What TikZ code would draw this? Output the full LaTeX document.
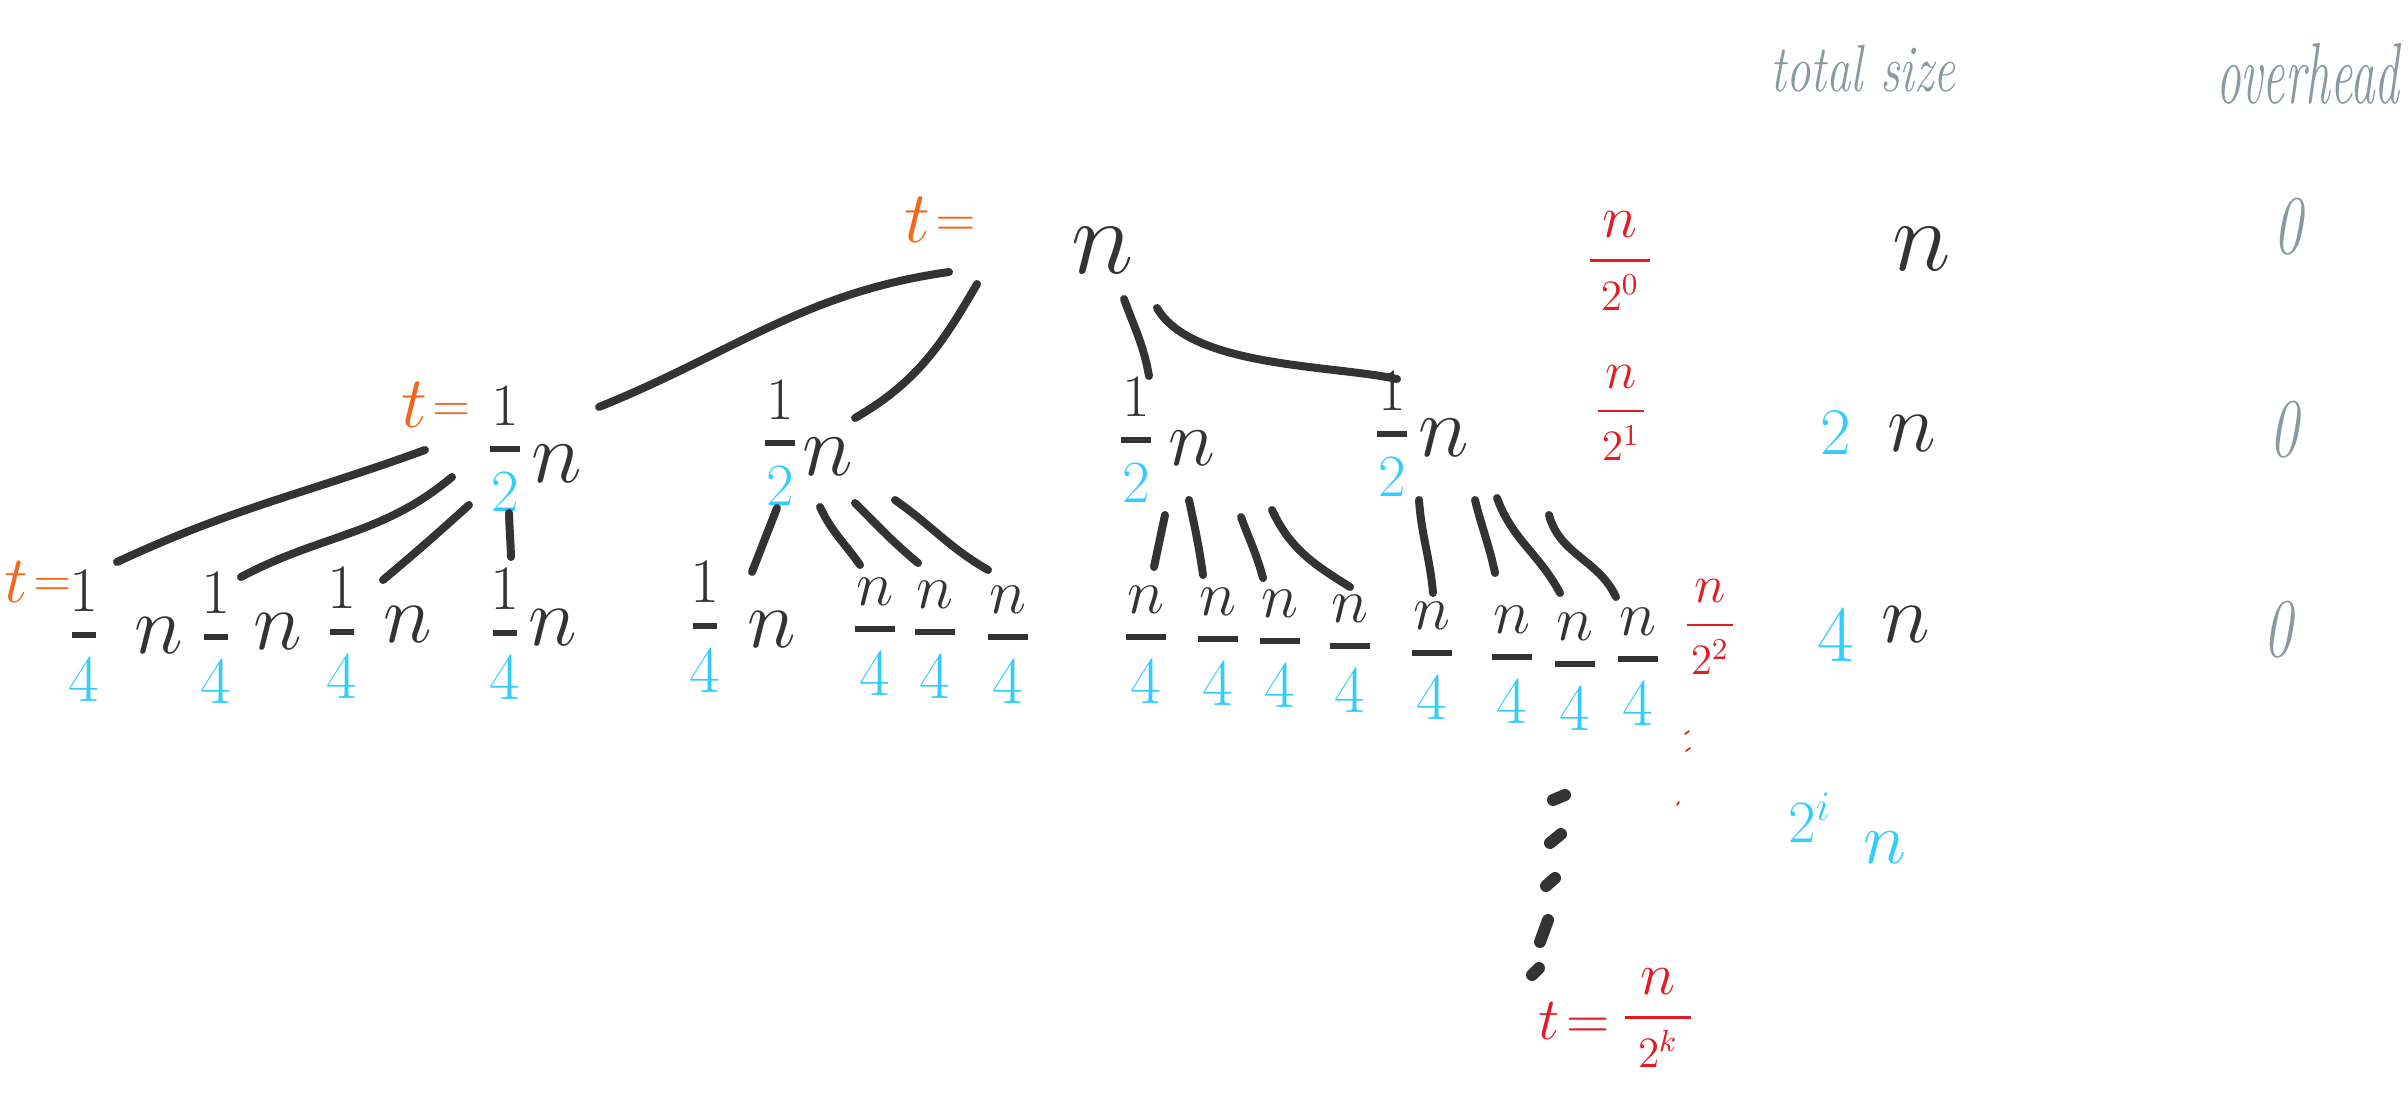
\RequirePackage{fix-cm}
\documentclass[tikz,border=0pt]{standalone}
\usepackage{amsmath}
\usepackage{graphicx}
\definecolor{ink}{HTML}{333333}
\definecolor{sky}{HTML}{33CCFF}
\definecolor{tang}{HTML}{F4661B}
\definecolor{scarlet}{HTML}{E31B23}
\definecolor{slate}{HTML}{8A999E}
\newcommand\fs[1]{\fontsize{#1}{#1}\selectfont}
% handwritten-style fraction: num size, num, den size, den, bar thickness, bar width
\newcommand\hfrac[6]{$\genfrac{}{}{#5}{0}{\makebox[#6]{\fs{#1}$#2$}}{\makebox[#6]{\fs{#3}$#4$}}$}
\newcommand\half{\hfrac{18}{1}{18}{\textcolor{sky}{2}}{2pt}{9pt}}
\newcommand\quarter{\hfrac{19}{1}{20}{\textcolor{sky}{4}}{2pt}{7pt}}
\newcommand\nquarter{\hfrac{19}{n}{20}{\textcolor{sky}{4}}{2pt}{12pt}}
% level marker: a tall t followed by a smaller equals sign at mid height
\newcommand\teq[2]{{\fs{#1}$t$}\kern1.5pt\raisebox{0.12em}{\fs{#2}$=$}}
\begin{document}
\begin{tikzpicture}[x=0.3pt,y=0.3pt,
  edge/.style={draw=ink,line width=2.4pt,line cap=round,line join=round},
  lab/.style={inner sep=0pt,outer sep=0pt,font=\fs{16}},
  blk/.style={lab,text=ink},
  lvl/.style={lab,text=tang},
  red/.style={lab,text=scarlet},
  cyan/.style={lab,text=sky},
  grey/.style={lab,text=slate},
  dot/.style={draw=ink,line width=3.6pt,line cap=round}]
\useasboundingbox (0,0) rectangle (2408,-1109);

% level markers
\node[lvl] (t0) at (940,-220) {\teq{22}{16}};
\node[lvl] (t1) at (436,-405) {\teq{22}{15}};
\node[lvl] (t2) at (38,-582) {\teq{20}{15}};

% root
\node[blk] (r) at (1103,-251) {\fs{32}$n$};

% second level
\node[blk] (A) at (505,-449) {\half};
\node[blk] (An) at (557,-464) {\fs{26}$n$};
\node[blk] (B) at (780,-443) {\half};
\node[blk] (Bn) at (828,-457) {\fs{26}$n$};
\node[blk] (C) at (1136,-440) {\half};
\node[blk] (Cn) at (1192,-448) {\fs{24}$n$};
\node[blk] (D) at (1392,-434) {\half};
\node[blk] (Dn) at (1444,-438) {\fs{26}$n$};

% third level
\node[blk] (L1) at (84,-636) {\quarter};
\node[blk] (L1n) at (159,-636) {\fs{25}$n$};
\node[blk] (L2) at (216,-638) {\quarter};
\node[blk] (L2n) at (278,-632) {\fs{25}$n$};
\node[blk] (L3) at (342,-633) {\quarter};
\node[blk] (L3n) at (408,-625) {\fs{25}$n$};
\node[blk] (L4) at (505,-634) {\quarter};
\node[blk] (L4n) at (553,-628) {\fs{25}$n$};
\node[blk] (L5) at (705,-627) {\quarter};
\node[blk] (L5n) at (772,-630) {\fs{25}$n$};
\node[blk] (L6) at (875,-637) {\nquarter};
\node[blk] (L7) at (935,-640) {\nquarter};
\node[blk] (L8) at (1008,-645) {\nquarter};
\node[blk] (L9) at (1146,-645) {\nquarter};
\node[blk] (L10) at (1218,-647) {\nquarter};
\node[blk] (L11) at (1280,-649) {\nquarter};
\node[blk] (L12) at (1350,-654) {\nquarter};
\node[blk] (L13) at (1432,-661) {\nquarter};
\node[blk] (L14) at (1512,-665) {\nquarter};
\node[blk] (L15) at (1575,-672) {\nquarter};
\node[blk] (L16) at (1638,-667) {\nquarter};

% size of one subproblem per level
\node[red] (F0) at (1620,-261) {\hfrac{18}{n}{13}{2^0}{0.7pt}{18pt}};
\node[red] (F1) at (1621,-413) {\hfrac{16}{n}{13}{2^1}{0.7pt}{14pt}};
\node[red] (F2) at (1710,-627) {\hfrac{16}{n}{13}{2^2}{0.7pt}{14pt}};
\node[red] (tk) at (1574,-1021) {\fs{18}$t\!=$};
\node[red] (Fk) at (1658,-1018) {\hfrac{18}{n}{13}{2^k}{0.7pt}{20pt}};

% column headings
\node[grey] (H1) at (1863,-69) {\scalebox{0.73}[1]{\fs{20}\itshape total size}};
\node[grey,anchor=west] (H2) at (2216,-74) {\scalebox{0.57}[1]{\fs{26}\itshape overhead}};

% total size column
\node[blk] (T0) at (1922,-249) {\fs{30}$n$};
\node[cyan] (T1d) at (1836,-433) {\fs{20}$2$};
\node[blk] (T1n) at (1912,-434) {\fs{25}$n$};
\node[cyan] (T2d) at (1836,-636) {\fs{24}$4$};
\node[blk] (T2n) at (1906,-625) {\fs{25}$n$};
\node[cyan] (T3d) at (1810,-818) {\fs{18}$2^{i}$};
\node[cyan] (T3n) at (1885,-848) {\fs{22}$n$};

% overhead column
\node[grey] (O0) at (2288,-227) {\scalebox{0.7}[1]{\fs{25}\itshape 0}};
\node[grey] (O1) at (2284,-430) {\scalebox{0.7}[1]{\fs{25}\itshape 0}};
\node[grey] (O2) at (2278,-630) {\scalebox{0.7}[1]{\fs{25}\itshape 0}};

% root to second level
\draw[edge] ([shift={(-154,-21)}]r.center) to[out=188,in=22] ([shift={(42,57)}]An.center);
\draw[edge] ([shift={(-126,-33)}]r.center) to[out=240,in=30] ([shift={(27,39)}]Bn.center);
\draw[edge] ([shift={(21,-48)}]r.center) to[out=290,in=100] ([shift={(13,64)}]C.center);
\draw[edge] ([shift={(54,-57)}]r.center) to[out=300,in=168,looseness=0.7] ([shift={(5,55)}]D.center);

% first subtree
\draw[edge] ([shift={(-80,-1)}]A.center) to[out=200,in=25] ([shift={(33,74)}]L1.center);
\draw[edge] ([shift={(-53,-28)}]A.center) to[out=220,in=28] ([shift={(25,61)}]L2.center);
\draw[edge] ([shift={(-36,-56)}]A.center) to[out=222,in=40] ([shift={(-25,45)}]L3n.center);
\draw[edge] ([shift={(4,-64)}]A.center) to[out=272,in=92] ([shift={(6,77)}]L4.center);

% second subtree
\draw[edge] ([shift={(-3,-65)}]B.center) -- ([shift={(-20,58)}]L5n.center);
\draw[edge] ([shift={(-8,-50)}]Bn.center) to[out=295,in=125] ([shift={(-15,72)}]L6.center);
\draw[edge] ([shift={(27,-46)}]Bn.center) to[out=315,in=140] ([shift={(-17,77)}]L7.center);
\draw[edge] ([shift={(67,-43)}]Bn.center) to[out=325,in=150] ([shift={(-20,75)}]L8.center);

% third subtree
\draw[edge] ([shift={(29,-75)}]C.center) -- ([shift={(8,78)}]L9.center);
\draw[edge] ([shift={(-3,-52)}]Cn.center) to[out=282,in=98] ([shift={(-15,72)}]L10.center);
\draw[edge] ([shift={(49,-69)}]Cn.center) to[out=290,in=105] ([shift={(-17,71)}]L11.center);
\draw[edge] ([shift={(80,-62)}]Cn.center) to[out=295,in=148] ([shift={(0,67)}]L12.center);

% fourth subtree
\draw[edge] ([shift={(27,-66)}]D.center) to[out=274,in=95] ([shift={(1,68)}]L13.center);
\draw[edge] ([shift={(31,-62)}]Dn.center) to[out=284,in=102] ([shift={(-17,92)}]L14.center);
\draw[edge] ([shift={(53,-60)}]Dn.center) to[out=290,in=118] ([shift={(-15,79)}]L15.center);
\draw[edge] ([shift={(105,-77)}]Dn.center) to[out=285,in=115] ([shift={(-22,70)}]L16.center);

% vertical ellipsis down to the last level
\draw[dot] (1553,-800) -- (1565,-795);
\draw[dot] (1550,-843) -- (1561,-834);
\draw[dot] (1546,-886) -- (1555,-878);
\draw[dot] (1540,-942) -- (1548,-920);
\draw[dot] (1532,-975) -- (1539,-968);

% faint red dots under n/2^2
\draw[scarlet,line width=0.5pt,line cap=round] (1685,-734) -- (1689,-731);
\draw[scarlet,line width=0.5pt,line cap=round] (1686,-751) -- (1690,-748);
\draw[scarlet,line width=0.5pt,line cap=round] (1677,-805) -- (1679,-802);
\end{tikzpicture}
\end{document}
